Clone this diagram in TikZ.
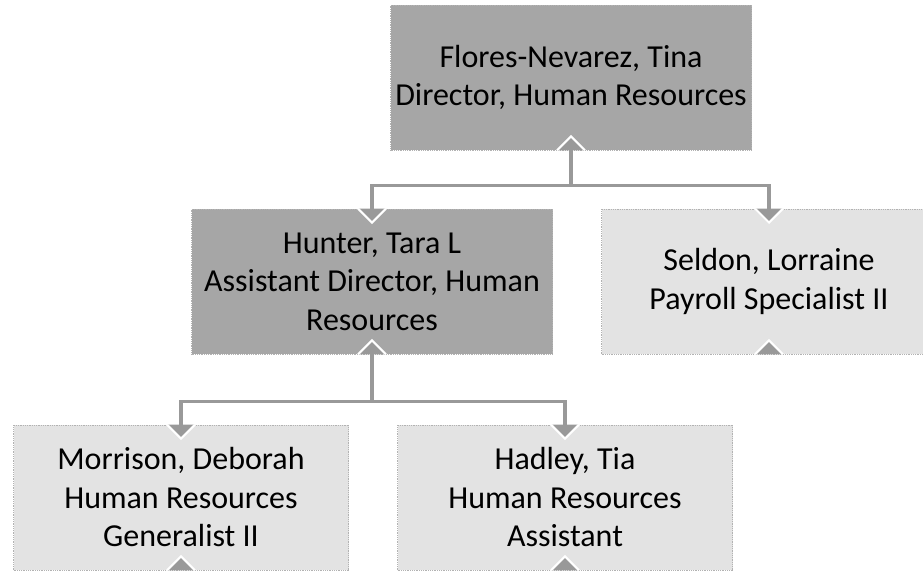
\documentclass[tikz,border=0pt]{standalone}
\usepackage{fontspec}
\setmainfont{Carlito}
\usepackage{tikz}
\usetikzlibrary{positioning}

\definecolor{darkbox}{HTML}{A6A6A6}
\definecolor{lightbox}{HTML}{E3E3E3}
\definecolor{linkgray}{HTML}{999999}

\begin{document}
\begin{tikzpicture}[node distance={204pt},
    main/.style={draw=gray!60, densely dotted, line width=0.8pt, rectangle, align=center,
                 font=\fontsize{32}{38.5}\selectfont, inner sep=0pt, minimum height=145pt},
    head/.style={main, fill=darkbox, minimum width=361pt},
    staff/.style={main, fill=lightbox, minimum width=335pt},
    link/.style={draw=linkgray, line width=3.5pt},
    notch/.style={fill=linkgray, draw=white, line width=2pt, solid}]
            \useasboundingbox (0,0) rectangle (923pt,570pt);
            \clip (0,0) rectangle (923pt,570pt);

            \node[head] (0) at (571pt,492.5pt) {Flores-Nevarez, Tina\\Director, Human Resources};

            \node[head] (1) [below of=0, xshift=-199pt] {Hunter, Tara L\\Assistant Director, Human\\Resources};
            \node[staff] (2) [below of=0, xshift=198pt] {Seldon, Lorraine\\Payroll Specialist II};

            \node[staff] (3) [below of=1, xshift=-191pt, yshift=-12pt] {Morrison, Deborah\\Human Resources\\Generalist II};
            \node[staff] (4) [below of=1, xshift=193pt, yshift=-12pt] {Hadley, Tia\\Human Resources\\Assistant};

            \draw[link] (0.south) -- ++(0,-35pt) -| (1.north);
            \draw[link] (0.south) -- ++(0,-35pt) -| (2.north);
            \draw[link] (1.south) -- ++(0,-47pt) -| (3.north);
            \draw[link] (1.south) -- ++(0,-47pt) -| (4.north);

            % little triangles on the boxes
            \foreach \n in {0,1,2,3,4}
              \filldraw[notch] ([xshift=-14pt]\n.south) -- ([yshift=14pt]\n.south) -- ([xshift=14pt]\n.south);
            \foreach \n in {1,2,3,4}
              \filldraw[notch] ([xshift=-14pt]\n.north) -- ([yshift=-14pt]\n.north) -- ([xshift=14pt]\n.north);
          \end{tikzpicture}
\end{document}
